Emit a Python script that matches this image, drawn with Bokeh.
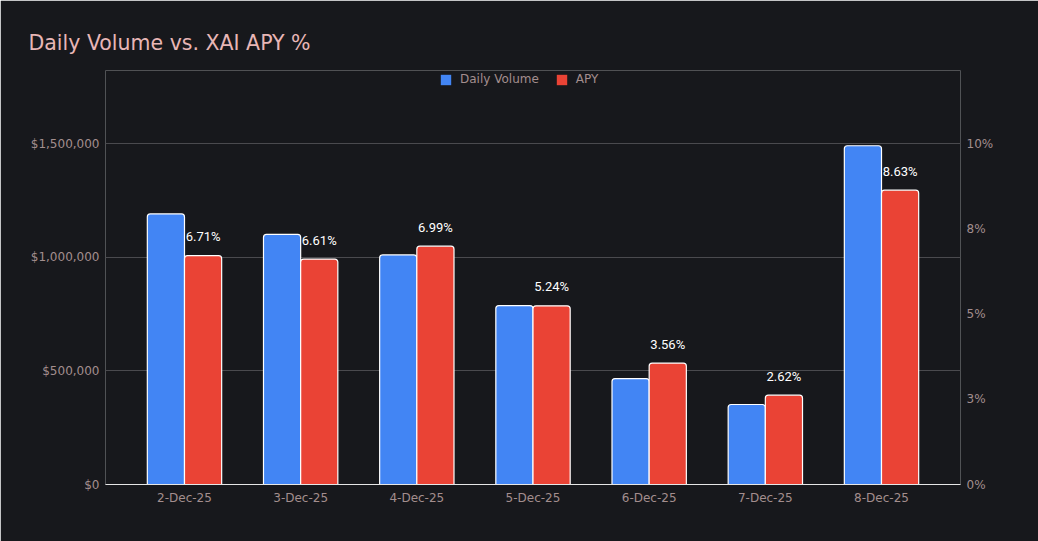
from bokeh.plotting import figure
from bokeh.models import (ColumnDataSource, FactorRange, Range1d, LinearAxis, FixedTicker,
                          NumeralTickFormatter, CustomJSTickFormatter, Legend, LegendItem, Title)
from bokeh.transform import dodge
from bokeh.core.properties import value
from bokeh.embed import file_html
from bokeh.resources import INLINE

dates = ["2-Dec-25", "3-Dec-25", "4-Dec-25", "5-Dec-25", "6-Dec-25", "7-Dec-25", "8-Dec-25"]
volume = [1190000, 1100000, 1010000, 787000, 466000, 352000, 1490000]
apy = [6.71, 6.61, 6.99, 5.24, 3.56, 2.62, 8.63]
apy_labels = [f"{v:.2f}%" for v in apy]
vol_ticks = [0, 500000, 1000000, 1500000]
apy_ticks = [0, 2.5, 5, 7.5, 10]
series_names = ["Daily Volume", "APY"]
chart_title = "Daily Volume vs. XAI APY %"

BG = "#17181c"
BLUE = "#4285f4"
RED = "#ea4335"
TICK_COLOR = "#a38e8e"
FONT = "DejaVu Sans"

# layout geometry (pixels)
W, H = 1038, 541
FRAME_TOP, AXIS_TOP, FRAME_BOTTOM = 70, 143, 484
VOL_MAX, APY_MAX = 1500000, 10
# the frame extends above the axis maximum so the legend can sit inside it
stretch = (FRAME_BOTTOM - FRAME_TOP) / (FRAME_BOTTOM - AXIS_TOP)

src = ColumnDataSource(dict(date=dates, volume=volume, apy=apy, label=apy_labels))

p = figure(width=W, height=H, output_backend="svg", toolbar_location=None,
           x_range=FactorRange(factors=dates, range_padding=0.18, range_padding_units="absolute"),
           y_range=Range1d(0, VOL_MAX * stretch),
           min_border_left=105, min_border_right=78, min_border_top=FRAME_TOP,
           min_border_bottom=H - FRAME_BOTTOM,
           outline_line_color=None, outline_line_alpha=0, outline_line_width=0)
p.title = None
p.background_fill_color = BG
p.border_fill_color = BG
p.extra_y_ranges = {"apy": Range1d(0, APY_MAX * stretch)}

p.vbar(x=dodge("date", -0.16, range=p.x_range), top="volume", width=0.32, source=src,
       fill_color=BLUE, line_color="white", line_width=1.2, border_radius=(3, 3, 0, 0))
p.vbar(x=dodge("date", 0.16, range=p.x_range), top="apy", width=0.32, source=src,
       y_range_name="apy", fill_color=RED, line_color="white", line_width=1.2,
       border_radius=(3, 3, 0, 0))
p.text(x=dodge("date", 0.16, range=p.x_range), y="apy", text="label", source=src,
       y_range_name="apy", text_align="center", text_baseline="middle", y_offset=-19,
       text_color="white", text_font=value("Roboto"), text_font_size="13px")

# legend proxies (hidden)
proxy_vol = p.vbar(x=dodge("date", 0, range=p.x_range), top="volume", width=0.3, source=src,
                   fill_color=BLUE, line_color=None, visible=False)
proxy_apy = p.vbar(x=dodge("date", 0, range=p.x_range), top="apy", width=0.3, source=src,
                   y_range_name="apy", fill_color=RED, line_color=None, visible=False)
legend = Legend(items=[LegendItem(label=series_names[0], renderers=[proxy_vol]),
                       LegendItem(label=series_names[1], renderers=[proxy_apy])],
                orientation="horizontal", location=(334, FRAME_BOTTOM - 86),
                glyph_width=13, glyph_height=13, label_height=13, label_standoff=8,
                spacing=16, padding=0, margin=0,
                label_text_font=FONT, label_text_font_size="12px", label_text_color=TICK_COLOR,
                border_line_alpha=0, background_fill_alpha=0,
                inactive_fill_alpha=0)
p.add_layout(legend, "center")

title = Title(text=chart_title, align="left", offset=-77,
              vertical_align="bottom", text_baseline="alphabetic", standoff=32,
              text_font=FONT, text_font_size="20.5px", text_font_style="normal",
              text_color="#e8b6b6")
p.add_layout(title, "above")

# axes
la = p.yaxis[0]
la.ticker = FixedTicker(ticks=vol_ticks)
la.formatter = NumeralTickFormatter(format="$0,0")
ra = LinearAxis(y_range_name="apy", ticker=FixedTicker(ticks=apy_ticks),
                formatter=CustomJSTickFormatter(code="return Math.round(tick) + '%';"))
p.add_layout(ra, "right")
xa = p.xaxis[0]

for ax in (la, ra, xa):
    ax.axis_line_color = None
    ax.axis_line_alpha = 0
    ax.major_tick_line_color = None
    ax.minor_tick_line_color = None
    ax.major_tick_out = 0
    ax.major_tick_in = 0
    ax.minor_tick_out = 0
    ax.major_label_standoff = 6
    ax.major_label_text_font = FONT
    ax.major_label_text_font_size = "12px"
    ax.major_label_text_color = TICK_COLOR

xa.axis_line_color = "#e6e6e6"
xa.axis_line_alpha = 1
xa.axis_line_width = 1.2

p.xgrid.grid_line_color = None
p.ygrid.grid_line_color = "#4a4a4e"
p.ygrid.ticker = FixedTicker(ticks=vol_ticks)

open("out.html", "w").write(file_html(p, INLINE))
